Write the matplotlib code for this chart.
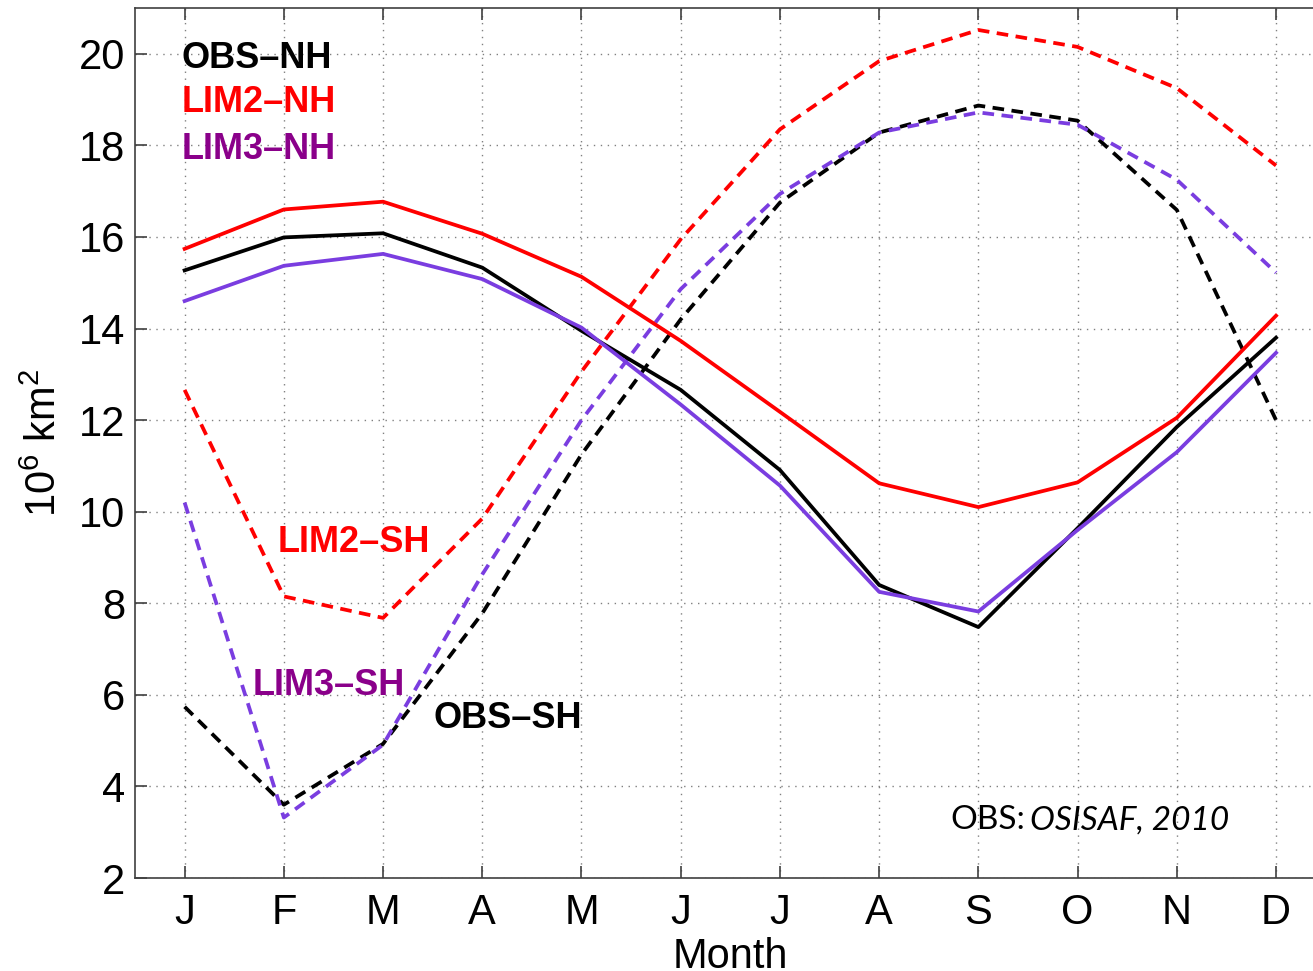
import matplotlib
matplotlib.use("Agg")
import matplotlib.pyplot as plt
import numpy as np

plt.rcParams['font.family'] = ['Liberation Sans', 'DejaVu Sans']
plt.rcParams['mathtext.fontset'] = 'custom'
plt.rcParams['mathtext.rm'] = 'Liberation Sans'
plt.rcParams['mathtext.it'] = 'Liberation Sans:italic'

months = ['J', 'F', 'M', 'A', 'M', 'J', 'J', 'A', 'S', 'O', 'N', 'D']
yticks = [2, 4, 6, 8, 10, 12, 14, 16, 18, 20]

obs_nh = [15.27, 15.99, 16.08, 15.33, 13.95, 12.66, 10.91, 8.40, 7.48, 9.64, 11.85, 13.80]
lim2_nh = [15.74, 16.60, 16.77, 16.07, 15.13, 13.73, 12.18, 10.62, 10.10, 10.64, 12.05, 14.28]
lim3_nh = [14.60, 15.37, 15.63, 15.08, 14.02, 12.34, 10.57, 8.25, 7.82, 9.60, 11.30, 13.47]

obs_sh = [5.74, 3.60, 4.93, 7.78, 11.25, 14.20, 16.75, 18.28, 18.87, 18.54, 16.59, 12.00]
lim2_sh = [12.66, 8.15, 7.68, 9.85, 13.06, 15.95, 18.35, 19.84, 20.52, 20.15, 19.25, 17.56]
lim3_sh = [10.20, 3.32, 4.91, 8.63, 12.00, 14.86, 16.94, 18.28, 18.72, 18.45, 17.25, 15.22]

RED = '#ff0000'
BLACK = '#000000'
PURPLE_LINE = '#7a3de0'
PURPLE_TEXT = '#8a008a'

W, H = 1313, 971
fig = plt.figure(figsize=(W / 100, H / 100), dpi=100)
left, right, top, bottom = 135, 135 + 12 * 99.22, 8, 878
ax = fig.add_axes([left / W, (H - bottom) / H, (right - left) / W, (bottom - top) / H])

x = np.arange(1, 13)
lw = 2.7
dash = (0, (3.1, 2.0))
ax.plot(x, lim2_sh, color=RED, lw=lw, linestyle=dash)
ax.plot(x, obs_sh, color=BLACK, lw=lw, linestyle=dash)
ax.plot(x, lim3_sh, color=PURPLE_LINE, lw=lw, linestyle=dash)
ax.plot(x, lim2_nh, color=RED, lw=lw)
ax.plot(x, obs_nh, color=BLACK, lw=lw)
ax.plot(x, lim3_nh, color=PURPLE_LINE, lw=lw)

ax.set_xlim(0.5, 12.5)
ax.set_ylim(2, 21)
ax.set_xticks(x)
ax.set_xticklabels(months)
ax.set_yticks(yticks)
ax.tick_params(axis='both', which='major', direction='in', length=8.5, width=1.2,
               labelsize=30, color='#404040', top=True, right=True)
ax.tick_params(axis='x', pad=11)
ax.tick_params(axis='y', pad=7)
for s in ax.spines.values():
    s.set_color('#404040')
    s.set_linewidth(1.2)
ax.grid(True, linestyle=(0, (1, 4)), color='#808080', linewidth=1.0)
ax.set_axisbelow(True)

ax.set_xlabel('Month', fontsize=30, labelpad=3)
ax.set_ylabel('10$^{6}$ km$^{2}$', fontsize=30, labelpad=10)

lab = dict(fontsize=26, fontweight='bold', va='baseline', ha='left')
ax.text(0.965, 19.685, 'OBS\u2013NH', color=BLACK, **lab)
ax.text(0.965, 18.72, 'LIM2\u2013NH', color=RED, **lab)
ax.text(0.965, 17.71, 'LIM3\u2013NH', color=PURPLE_TEXT, **lab)
ax.text(1.94, 9.125, 'LIM2\u2013SH', color=RED, **lab)
ax.text(1.69, 5.99, 'LIM3\u2013SH', color=PURPLE_TEXT, **lab)
ax.text(3.51, 5.27, 'OBS\u2013SH', color=BLACK, **lab)

ax.text(0.6845, 0.056, 'OBS:', fontsize=24, family=['Lato', 'DejaVu Sans'],
        transform=ax.transAxes, ha='left', va='baseline')
ax.text(0.7517, 0.056, 'OSISAF, 2010', fontsize=24, family=['Lato', 'DejaVu Sans'],
        style='italic', transform=ax.transAxes, ha='left', va='baseline')

fig.savefig('out.png', dpi=100)
